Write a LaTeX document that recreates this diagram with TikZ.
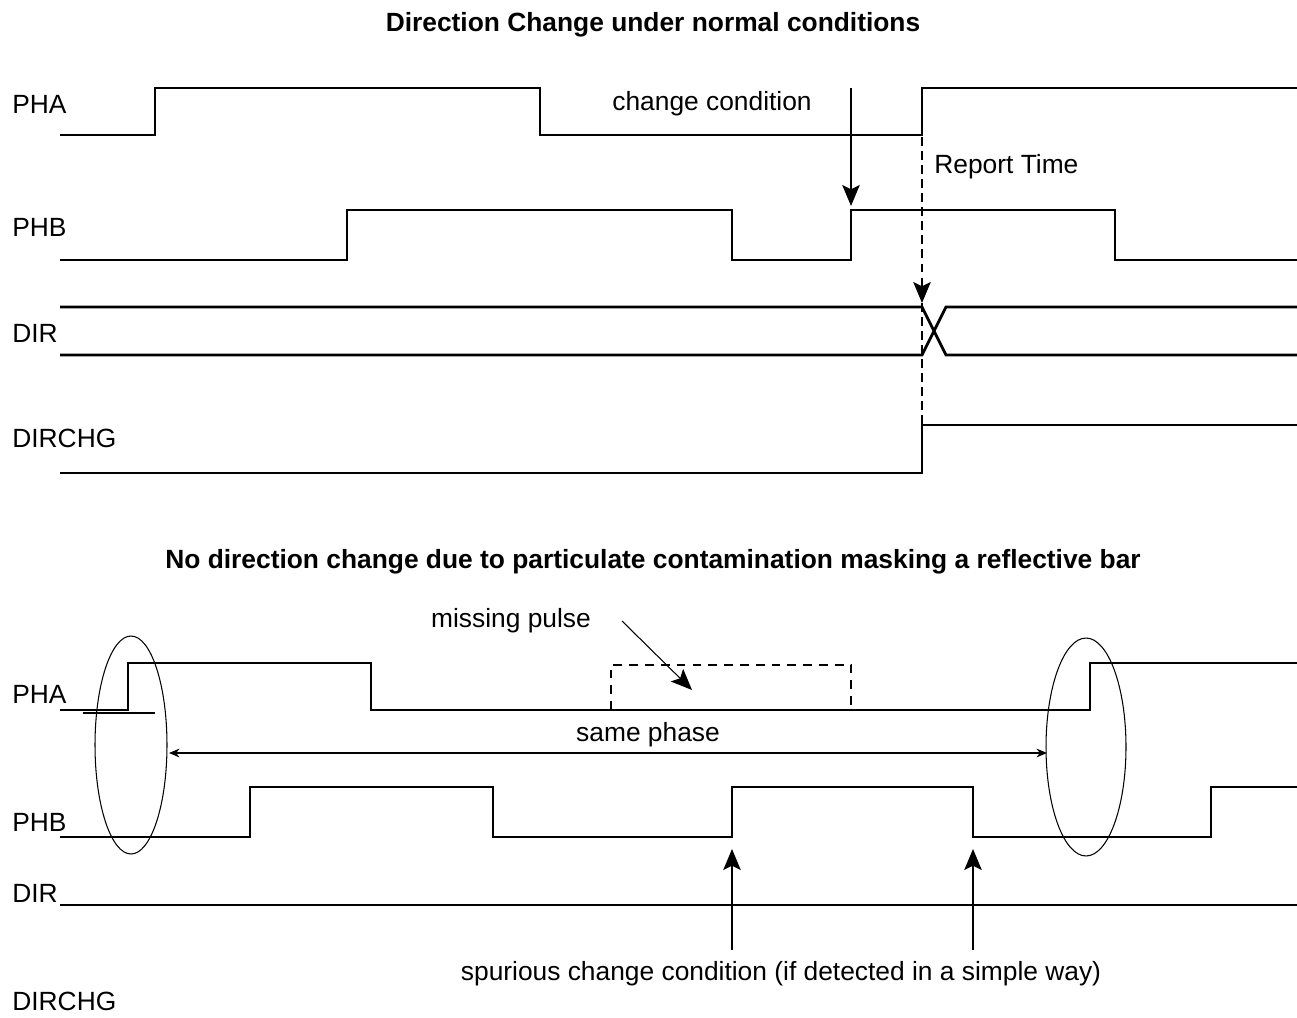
\documentclass[tikz,border=0pt]{standalone}
\usepackage{fontspec}
\setmainfont{Liberation Sans}
\usetikzlibrary{arrows.meta,positioning,calc}
\tikzset{
  title/.style={font=\fontsize{15}{17}\selectfont\bfseries,inner sep=0pt},
  sig/.style={anchor=west,font=\fontsize{15}{17}\selectfont,inner sep=0pt},
  note/.style={font=\fontsize{15}{17}\selectfont,inner sep=0pt},
  wave/.style={line width=1.6pt,line join=miter},
  thinline/.style={line width=0.6pt},
  pulsedash/.style={line width=1.3pt,dash pattern=on 5pt off 4pt},
  markdash/.style={line width=0.6pt,dash pattern=on 5pt off 3pt},
  annarr/.style={-{Stealth[length=12pt,width=10pt,inset=2.5pt]},line width=0.6pt},
  phasearr/.style={{Stealth[length=6pt,width=5pt]}-{Stealth[length=6pt,width=5pt]},line width=0.6pt}
}
\begin{document}
\begin{tikzpicture}[x=0.02cm,y=-0.02cm]
  \useasboundingbox (0,0) rectangle (1297,1017);

  % upper timing diagram
  \node[title] (t1) at (653,25) {Direction Change under normal conditions};
  \node[sig] (pha1) at (12,104) {PHA};
  \node[sig] (phb1) at (12,227) {PHB};
  \node[sig] (dir1) at (12,333) {DIR};
  \node[sig] (chg1) at (12,438) {DIRCHG};

  \draw[wave] (60,135) -- (155,135) -- (155,88) -- (540,88) -- (540,135)
    -- (922,135) -- (922,88) -- (1297,88);
  \draw[wave] (60,260) -- (347,260) -- (347,210) -- (732,210) -- (732,260)
    -- (851,260) -- (851,210) -- (1115,210) -- (1115,260) -- (1297,260);
  \draw[wave] (60,307) -- (922,307) -- (946,355) -- (1297,355);
  \draw[wave] (60,355) -- (922,355) -- (946,307) -- (1297,307);
  \draw[wave] (60,473) -- (922,473) -- (922,425) -- (1297,425);

  \node[note] (cc) at (712,104) {change condition};
  \node[note,anchor=west] (rt) at (934,167) {Report Time};
  \coordinate (cctop) at (851,88);
  \coordinate (ccbot) at (851,206);
  \coordinate (rttop) at (922,137);
  \coordinate (rtbot) at (922,303);
  \coordinate (rtend) at (922,425);
  \draw[annarr] (cctop) -- (ccbot);
  \draw[annarr,markdash] (rttop) -- (rtbot);
  \draw[markdash] (rtbot) -- (rtend);

  % lower timing diagram
  \node[title] (t2) at (653,562) {No direction change due to particulate contamination masking a reflective bar};
  \node[sig] (pha2) at (12,694) {PHA};
  \node[sig] (phb2) at (12,822) {PHB};
  \node[sig] (dir2) at (12,893) {DIR};
  \node[sig] (chg2) at (12,1001) {DIRCHG};

  \draw[wave] (60,710) -- (128,710) -- (128,663) -- (371,663) -- (371,710)
    -- (1090,710) -- (1090,663) -- (1297,663);
  \draw[thinline] (83,713) -- (155,713);
  \draw[pulsedash] (611,710) -- (611,665) -- (851,665) -- (851,710);
  \draw[wave] (60,837) -- (250,837) -- (250,787) -- (493,787) -- (493,837)
    -- (732,837) -- (732,787) -- (973,787) -- (973,837) -- (1211,837)
    -- (1211,787) -- (1297,787);
  \draw[wave] (60,905) -- (1297,905);

  \draw[thinline] (131,745) ellipse [x radius=0.72cm,y radius=2.18cm];
  \draw[thinline] (1086,747) ellipse [x radius=0.8cm,y radius=2.18cm];

  \node[note] (mp) at (511,621) {missing pulse};
  \coordinate (mpa) at (622,621);
  \coordinate (mpb) at (692,690);
  \draw[annarr] (mpa) -- (mpb);

  \node[note] (sp) at (648,735) {same phase};
  \coordinate (spl) at (169,753);
  \coordinate (spr) at (1047,753);
  \draw[phasearr] (spl) -- (spr);

  \node[note] (sc) at (781,974) {spurious change condition (if detected in a simple way)};
  \coordinate (sca) at (732,950);
  \coordinate (scb) at (732,849);
  \coordinate (scc) at (973,950);
  \coordinate (scd) at (973,849);
  \draw[annarr] (sca) -- (scb);
  \draw[annarr] (scc) -- (scd);
\end{tikzpicture}
\end{document}
